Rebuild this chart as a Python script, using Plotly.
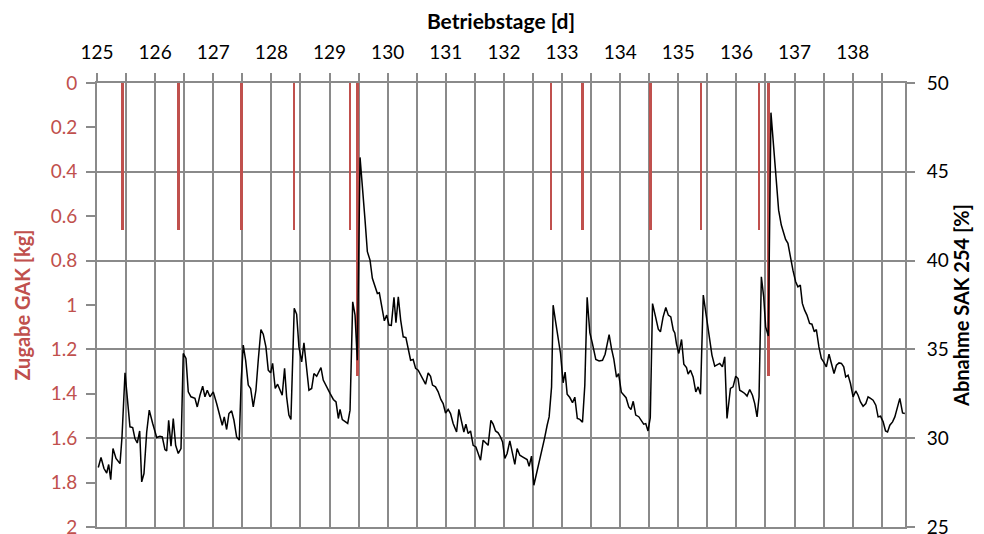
import plotly.graph_objects as go

# ---------------- data ----------------
# GAK additions (red bars), day and amount [kg]
gak_days = [125.44, 126.40, 127.49, 128.39, 129.35, 129.48,
            132.81, 133.35, 134.52, 135.39, 136.39, 136.55]
gak_kg = [0.66, 0.66, 0.66, 0.66, 0.66, 1.32,
          0.66, 0.66, 0.66, 0.66, 0.66, 1.32]

# SAK 254 removal [%] (black line)
sak_days = [
    125.022, 125.069, 125.120, 125.167, 125.201, 125.236, 125.275, 125.327, 125.396, 125.430,
    125.482, 125.533, 125.567, 125.614, 125.653, 125.693, 125.734, 125.769, 125.808, 125.855,
    125.899, 125.958, 126.027, 126.083, 126.123, 126.169, 126.199, 126.233, 126.273, 126.312,
    126.353, 126.398, 126.445, 126.484, 126.531, 126.570, 126.617, 126.685, 126.725, 126.771,
    126.818, 126.857, 126.897, 126.943, 127.000, 127.058, 127.115, 127.155, 127.189, 127.230,
    127.270, 127.316, 127.356, 127.402, 127.447, 127.481, 127.516, 127.557, 127.602, 127.643,
    127.688, 127.734, 127.774, 127.820, 127.860, 127.906, 127.946, 127.987, 128.021, 128.066,
    128.107, 128.146, 128.186, 128.227, 128.262, 128.301, 128.336, 128.393, 128.434, 128.474,
    128.521, 128.560, 128.607, 128.646, 128.693, 128.732, 128.779, 128.818, 128.853, 128.892,
    128.951, 129.009, 129.066, 129.112, 129.152, 129.181, 129.220, 129.267, 129.313, 129.353,
    129.399, 129.439, 129.478, 129.525, 129.565, 129.611, 129.651, 129.697, 129.737, 129.783,
    129.823, 129.857, 129.898, 129.943, 129.984, 130.023, 130.063, 130.109, 130.143, 130.183,
    130.224, 130.268, 130.314, 130.353, 130.395, 130.439, 130.481, 130.525, 130.567, 130.611,
    130.652, 130.697, 130.738, 130.772, 130.823, 130.869, 130.915, 130.955, 130.996, 131.041,
    131.082, 131.127, 131.186, 131.225, 131.272, 131.311, 131.346, 131.385, 131.426, 131.471,
    131.518, 131.557, 131.598, 131.643, 131.690, 131.729, 131.776, 131.815, 131.856, 131.901,
    131.942, 131.977, 132.016, 132.055, 132.102, 132.141, 132.188, 132.227, 132.274, 132.320,
    132.360, 132.399, 132.434, 132.475, 132.515, 132.561, 132.606, 132.651, 132.698, 132.744,
    132.778, 132.820, 132.847, 132.894, 132.933, 132.974, 133.019, 133.053, 133.088, 133.134,
    133.180, 133.220, 133.263, 133.306, 133.352, 133.392, 133.432, 133.478, 133.521, 133.581,
    133.638, 133.696, 133.741, 133.810, 133.851, 133.891, 133.937, 133.973, 134.020, 134.063,
    134.102, 134.148, 134.186, 134.225, 134.268, 134.320, 134.363, 134.405, 134.440, 134.479,
    134.518, 134.557, 134.609, 134.656, 134.693, 134.738, 134.785, 134.828, 134.871, 134.914,
    134.940, 134.969, 135.009, 135.056, 135.095, 135.141, 135.169, 135.210, 135.255, 135.301,
    135.341, 135.382, 135.430, 135.478, 135.528, 135.579, 135.627, 135.666, 135.713, 135.759,
    135.799, 135.838, 135.897, 135.942, 135.988, 136.028, 136.057, 136.104, 136.143, 136.183,
    136.229, 136.276, 136.315, 136.355, 136.389, 136.429, 136.469, 136.503, 136.549, 136.594,
    136.640, 136.686, 136.726, 136.772, 136.812, 136.846, 136.886, 136.927, 136.972, 137.019,
    137.058, 137.099, 137.134, 137.173, 137.213, 137.259, 137.299, 137.340, 137.375, 137.419,
    137.461, 137.500, 137.547, 137.593, 137.634, 137.679, 137.720, 137.765, 137.806, 137.846,
    137.880, 137.921, 137.962, 138.007, 138.053, 138.093, 138.134, 138.179, 138.226, 138.265,
    138.307, 138.351, 138.398, 138.437, 138.479, 138.524, 138.565, 138.600, 138.639, 138.686,
    138.725, 138.765, 138.811, 138.858, 138.897,
]
sak_pct = [
    28.35, 28.91, 28.29, 28.04, 28.52, 27.67, 29.42, 28.86, 28.57, 30.07,
    33.68, 31.95, 30.64, 30.60, 29.98, 29.73, 30.41, 27.54, 28.01, 30.35,
    31.58, 30.83, 30.04, 30.11, 30.07, 29.36, 29.28, 31.01, 29.55, 31.11,
    29.60, 29.14, 29.42, 34.77, 34.49, 32.61, 32.33, 32.24, 31.76, 32.42,
    32.93, 32.33, 32.70, 32.33, 32.61, 31.95, 31.20, 30.73, 31.20, 30.49,
    31.39, 31.54, 31.01, 30.07, 29.89, 33.27, 35.24, 34.39, 32.99, 32.80,
    31.76, 32.70, 34.39, 36.12, 35.86, 35.14, 33.83, 33.68, 34.21, 32.80,
    33.04, 32.70, 32.42, 33.93, 32.33, 31.30, 31.05, 37.31, 36.99, 35.14,
    34.30, 35.37, 33.73, 32.70, 32.80, 33.64, 33.49, 33.73, 33.98, 33.27,
    32.86, 32.52, 32.18, 32.04, 31.11, 31.62, 31.05, 30.92, 30.83, 31.58,
    37.68, 36.93, 34.39, 45.81, 44.35, 42.28, 40.50, 40.03, 39.00, 38.52,
    38.15, 38.19, 37.40, 36.61, 36.93, 36.37, 36.35, 37.93, 36.50, 37.96,
    36.65, 35.71, 35.67, 34.96, 34.39, 34.43, 33.93, 33.83, 33.55, 33.27,
    33.04, 33.68, 33.49, 32.99, 32.89, 32.61, 32.18, 31.95, 31.42, 31.62,
    31.39, 30.83, 30.35, 31.62, 30.83, 30.35, 30.79, 30.26, 30.41, 29.60,
    29.51, 29.17, 28.76, 29.89, 29.73, 29.60, 31.01, 30.79, 30.41, 30.30,
    30.07, 29.79, 28.86, 29.14, 29.85, 29.23, 28.53, 29.42, 29.04, 28.95,
    28.86, 28.80, 28.42, 28.99, 27.35, 28.01, 28.57, 29.17, 29.98, 30.73,
    31.20, 32.89, 37.49, 36.46, 35.52, 34.77, 33.12, 33.72, 32.48, 32.29,
    32.00, 32.31, 31.11, 31.06, 30.90, 32.99, 37.93, 35.94, 35.35, 34.43,
    34.35, 34.39, 34.73, 35.83, 35.04, 34.45, 33.44, 33.63, 32.59, 32.39,
    32.28, 31.76, 31.62, 32.08, 31.30, 31.21, 30.96, 30.79, 30.82, 30.41,
    31.15, 37.58, 36.83, 36.14, 35.99, 36.82, 37.36, 36.93, 36.83, 36.08,
    35.93, 35.30, 34.77, 35.56, 34.17, 33.98, 33.61, 33.83, 33.45, 32.61,
    32.89, 32.48, 38.06, 36.93, 35.72, 34.68, 34.06, 34.11, 34.21, 34.02,
    34.58, 31.11, 32.80, 32.89, 33.49, 33.36, 32.70, 32.61, 32.52, 32.37,
    32.74, 32.42, 31.95, 31.20, 32.33, 39.09, 37.96, 36.27, 35.75, 48.33,
    46.23, 44.16, 42.84, 42.00, 41.62, 41.19, 40.97, 40.21, 39.46, 38.81,
    38.52, 38.62, 37.59, 37.21, 36.93, 36.46, 36.42, 35.99, 36.12, 35.14,
    34.49, 34.30, 34.02, 34.73, 34.21, 33.64, 34.11, 34.24, 34.21, 34.02,
    33.45, 33.55, 33.08, 32.33, 32.66, 32.42, 32.04, 31.80, 31.95, 32.33,
    32.24, 32.14, 31.86, 31.20, 31.24, 30.92, 30.41, 30.35, 30.73, 30.92,
    31.20, 31.73, 32.24, 31.42, 31.39,
]

# axis ticks
day_labels = ['125', '126', '127', '128', '129', '130', '131',
              '132', '133', '134', '135', '136', '137', '138']
kg_ticks = [0, 0.2, 0.4, 0.6, 0.8, 1, 1.2, 1.4, 1.6, 1.8, 2]
kg_labels = ['0', '0.2', '0.4', '0.6', '0.8', '1', '1.2', '1.4', '1.6', '1.8', '2']
pct_ticks = [25, 30, 35, 40, 45, 50]

# ---------------- styling ----------------
RED = '#C0504D'
GRID = '#8A8A8A'
FONT = 'Lato'

x_tickvals = []
x_ticktext = []
for lab in day_labels:
    d = float(lab)
    x_tickvals += [d, d + 0.5]
    x_ticktext += [lab, '']

fig = go.Figure()
fig.add_trace(go.Bar(
    x=gak_days, y=gak_kg, width=0.045,
    marker=dict(color=RED, line=dict(width=0)),
    yaxis='y', xaxis='x', showlegend=False, hoverinfo='x+y'))
fig.add_trace(go.Scatter(
    x=sak_days, y=sak_pct, mode='lines',
    line=dict(color='black', width=1.5),
    yaxis='y2', xaxis='x', showlegend=False))

# the page body adds an 8 px offset, so the layout is shifted by 8 px
fig.update_layout(
    width=976, height=534,
    margin=dict(l=89, r=79, t=75, b=15, autoexpand=False),
    paper_bgcolor='white', plot_bgcolor='white',
    font=dict(family=FONT, size=18, color='black'),
    bargap=0,
    xaxis=dict(
        side='top', range=[125, 138.9], automargin=False,
        tickmode='array', tickvals=x_tickvals, ticktext=x_ticktext,
        showgrid=True, gridcolor=GRID, gridwidth=2,
        ticks='outside', ticklen=8, tickwidth=2, tickcolor=GRID,
        showline=True, linecolor=GRID, linewidth=2, mirror=True,
        zeroline=False, ticklabelstandoff=6,
        tickfont=dict(size=19, color='black'),
        title=dict(text='<b>Betriebstage [d]</b>', font=dict(size=21, color='black'), standoff=6),
    ),
    yaxis=dict(
        range=[2, 0], tickmode='array', tickvals=kg_ticks, ticktext=kg_labels,
        showgrid=False, zeroline=False, automargin=False,
        ticks='outside', ticklen=9, tickwidth=2, tickcolor=GRID,
        showline=True, linecolor=GRID, linewidth=2,
        ticklabelstandoff=5,
        tickfont=dict(size=19, color=RED),
        title=dict(text='<b>Zugabe GAK [kg]</b>', font=dict(size=20, color=RED), standoff=15),
    ),
    yaxis2=dict(
        range=[25, 50], tickmode='array', tickvals=pct_ticks,
        overlaying='y', side='right', automargin=False,
        showgrid=True, gridcolor=GRID, gridwidth=2, zeroline=False,
        ticks='outside', ticklen=8, tickwidth=2, tickcolor=GRID,
        showline=True, linecolor=GRID, linewidth=2,
        ticklabelstandoff=8,
        tickfont=dict(size=19, color='black'),
        title=dict(text='<b>Abnahme SAK 254 [%]</b>', font=dict(size=20, color='black'), standoff=6),
    ),
)

fig.write_html('out.html')
